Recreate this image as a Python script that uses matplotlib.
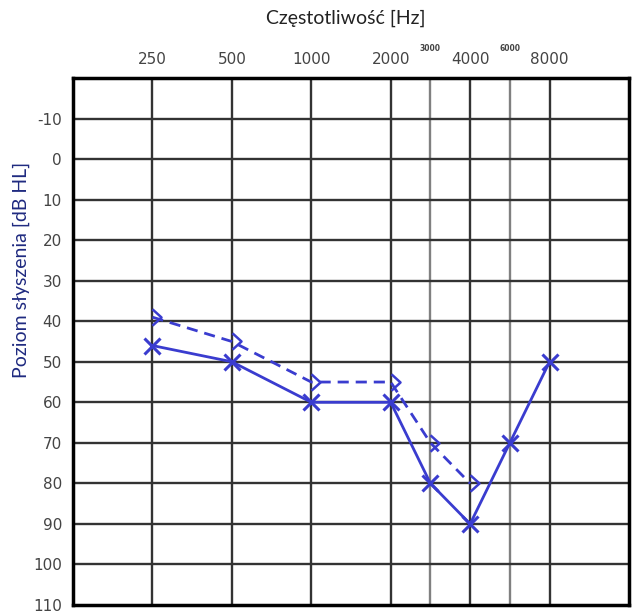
import numpy as np
import matplotlib
matplotlib.use("Agg")
import matplotlib.pyplot as plt
from matplotlib.path import Path

# audiogram data
freqs = [250, 500, 1000, 2000, 3000, 4000, 6000, 8000]
air = [46, 50, 60, 60, 80, 90, 70, 50]
bone_freqs = [250, 500, 1000, 2000, 3000, 4000]
bone = [39, 45, 55, 55, 70, 80]
main_ticks = [250, 500, 1000, 2000, 4000, 8000]
mid_ticks = [3000, 6000]
db_ticks = list(range(-10, 111, 10))

# audiogram x scale: octaves evenly spaced, 3000/6000 drawn mid-octave
anchor_f = np.log2([125, 250, 500, 1000, 2000, 3000, 4000, 6000, 8000, 16000])
anchor_p = np.array([0, 1, 2, 3, 4, 4.5, 5, 5.5, 6, 7], dtype=float)

def fwd(f):
    return np.interp(np.log2(np.clip(f, 1, None)), anchor_f, anchor_p)

def inv(p):
    return 2 ** np.interp(p, anchor_p, anchor_f)

blue = '#3a3ccf'
chevron = Path([(0, 1), (1.1, 0), (0, -1)], [Path.MOVETO, Path.LINETO, Path.LINETO])

fig = plt.figure(figsize=(6.35, 6.13), dpi=100)
ax = fig.add_axes([73/635, 8/613, 556/635, 527/613])

ax.set_xscale('function', functions=(fwd, inv))
ax.set_xlim(125, 16000)
ax.set_ylim(110, -20)

for f in freqs:
    c = '#808080' if f in mid_ticks else '#333333'
    ax.axvline(f, color=c, lw=1.7, zorder=1)
for d in db_ticks[:-1]:
    ax.axhline(d, color='#333333', lw=1.7, zorder=1)

ax.plot(freqs, air, color=blue, lw=2, marker='x', ms=11, mew=2.2, zorder=3)
ax.plot(bone_freqs, bone, color=blue, lw=2, ls=(0, (4, 2.5)), marker=chevron,
        ms=13, mfc='none', mew=1.8, zorder=3)

ax.xaxis.tick_top()
ax.set_xticks(main_ticks)
ax.set_xticklabels([str(t) for t in main_ticks], fontsize=11, color='#444444')
ax.xaxis.set_minor_locator(matplotlib.ticker.NullLocator())
ax.tick_params(axis='x', length=0, pad=8)
for t in mid_ticks:
    ax.text(t, 1.048, str(t), transform=ax.get_xaxis_transform(), ha='center',
            va='bottom', fontsize=5.5, fontweight='bold', color='#444444')

ax.set_yticks(db_ticks)
ax.set_yticklabels([str(t) for t in db_ticks], fontsize=11, color='#444444')
ax.tick_params(axis='y', length=0, pad=8)

for s in ax.spines.values():
    s.set_linewidth(2.5)
    s.set_color('black')

ax.set_ylabel('Poziom słyszenia [dB HL]', fontsize=14, color='#1f2a80', family='Lato')
ax.yaxis.set_label_coords(-0.077, 0.636)

fig.text(346/635, 1 - 18/613, 'Częstotliwość [Hz]', ha='center', va='center',
         fontsize=14, color='#222222', family='Lato')

fig.savefig('out.png', dpi=100)
